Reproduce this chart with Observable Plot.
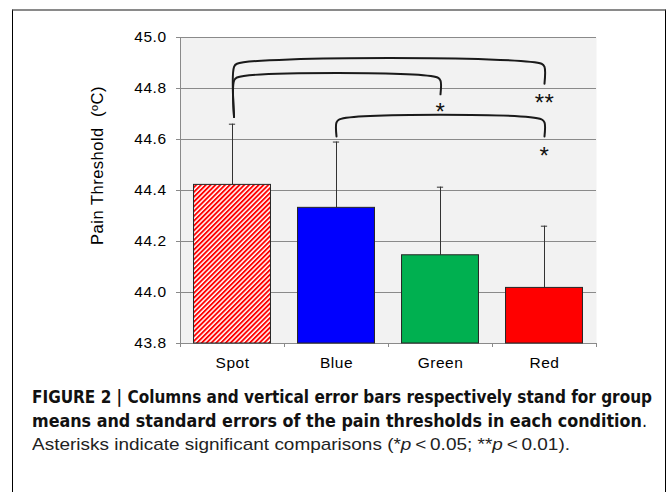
<!DOCTYPE html>
<html><head><meta charset="utf-8">
<script src="https://cdn.jsdelivr.net/npm/d3@7"></script>
<script src="https://cdn.jsdelivr.net/npm/@observablehq/plot@0.6"></script>
<style>
html,body{margin:0;padding:0;background:#fff;}
#wrap{position:relative;width:671px;height:492px;overflow:hidden;background:#fff;}
#chart{position:absolute;left:0;top:0;}
#chart svg text{letter-spacing:0.5px;font-family:"Liberation Sans",Arial,sans-serif;}
#box{position:absolute;left:12px;top:9px;width:654px;height:500px;border-top:2px solid #8a8a8a;border-left:1.5px solid #000;border-right:1.5px solid #000;box-sizing:border-box;pointer-events:none;}
#caption{position:absolute;left:32px;top:386px;font-family:"Liberation Sans Narrow","DejaVu Sans Condensed","Liberation Sans",sans-serif;font-size:17px;line-height:23.5px;color:#111;}
.line{white-space:nowrap;display:block;width:max-content;transform-origin:0 50%;}
.light{font-family:"Liberation Sans",Arial,sans-serif;color:#222;}
</style></head><body>
<div id="wrap">
<div id="chart"></div>
<div id="box"></div>
<div id="caption">
<span class="line" data-w="620"><b>FIGURE 2 | Columns and vertical error bars respectively stand for group</b></span>
<span class="line" data-w="615"><b>means and standard errors of the pain thresholds in each condition</b>.</span>
<span class="line light" data-w="538">Asterisks indicate significant comparisons (*<i>p</i>&thinsp;&lt;&thinsp;0.05; **<i>p</i>&thinsp;&lt;&thinsp;0.01).</span>
</div>
</div>
<script>
// ---- data ----
const categories = ["Spot", "Blue", "Green", "Red"];
const means = [44.422, 44.332, 44.146, 44.018];
const stdErrors = [0.238, 0.258, 0.267, 0.242];
const barFills = ["url(#spotHatch)", "#0000ff", "#00b050", "#ff0000"];
const yTicks = [43.8, 44.0, 44.2, 44.4, 44.6, 44.8, 45.0];
const yLabel = "Pain Threshold\u00a0 (ºC)";
const compFrom = ["Spot", "Spot", "Blue"];
const compTo = ["Red", "Green", "Red"];
const compTop = [44.897, 44.843, 44.679];
const compFromEnd = [44.688, 44.688, 44.612];
const compToEnd = [44.819, 44.777, 44.612];
const compMark = ["**", "*", "*"];
const compMarkY = [44.768, 44.733, 44.563];

// ---- build ----
const idx = c => categories.indexOf(c);
const bars = categories.map((c, i) => ({cat: c, i, mean: means[i], se: stdErrors[i], fill: barFills[i]}));
const rx = 0.028, ry = 0.012;
const bracketPts = [];
compFrom.forEach((f, k) => {
  const xa = idx(f) + 0.5 + (f === "Spot" ? 0.015 : 0), xb = idx(compTo[k]) + 0.5, t = compTop[k];
  [[xa, compFromEnd[k]], [xa, t - ry], [xa + rx, t], [xb - rx, t], [xb, t - ry], [xb, compToEnd[k]]]
    .forEach(([x, y]) => bracketPts.push({k, x, y}));
});
const marks = compMark.map((m, k) => ({m, x: idx(compTo[k]) + 0.5, y: compMarkY[k]}));

const chart = Plot.plot({
  width: 671, height: 380,
  marginLeft: 180, marginRight: 75, marginTop: 37, marginBottom: 37,
  style: {fontFamily: "'Liberation Sans', Arial, sans-serif", fontSize: "15px", background: "transparent", color: "#000"},
  x: {domain: [0, 4]},
  y: {domain: [43.8, 45.0]},
  color: {type: "identity"},
  marks: [
    Plot.frame({fill: "#f2f2f2", stroke: "none"}),
    Plot.gridY(yTicks, {stroke: "#8a8a8a", strokeOpacity: 1}),
    Plot.ruleX([0], {stroke: "#8a8a8a"}),
    Plot.axisY(yTicks, {tickSize: 4, tickPadding: 10, tickFormat: d => d.toFixed(1), stroke: "#8a8a8a", fill: "#000", fontSize: 15.5, label: null}),
    Plot.axisX([0, 1, 2, 3, 4], {tickSize: 4, tickFormat: () => "", stroke: "#8a8a8a", label: null}),
    Plot.axisX([0.5, 1.5, 2.5, 3.5], {tickSize: 0, tickPadding: 13, tickFormat: d => categories[Math.floor(d)], fill: "#000", fontSize: 15.5, label: null}),
    Plot.ruleX(bars, {x: d => d.i + 0.5, y1: "mean", y2: d => d.mean + d.se, stroke: "#333", strokeWidth: 1}),
    Plot.ruleY(bars, {y: d => d.mean + d.se, x1: d => d.i + 0.5 - 0.03, x2: d => d.i + 0.5 + 0.03, stroke: "#333", strokeWidth: 1}),
    Plot.rectY(bars, {x1: d => d.i + 0.13, x2: d => d.i + 0.87, y1: 43.8, y2: "mean", fill: "fill", stroke: "#262626", strokeWidth: 1}),
    Plot.line(bracketPts, {x: "x", y: "y", z: "k", curve: "catmull-rom", stroke: "#1a1a1a", strokeWidth: 2}),
    Plot.text(marks, {x: "x", y: "y", text: "m", fontSize: 24, dy: 7, fill: "#111"}),
    Plot.text([yLabel], {frameAnchor: "left", textAnchor: "middle", lineAnchor: "middle", text: d => d, rotate: -90, dx: -83, dy: -25, fontSize: 16.5, fill: "#000"})
  ]
});
d3.select(chart).insert("defs", ":first-child").html(
  '<pattern id="spotHatch" patternUnits="userSpaceOnUse" width="3.4" height="3.4" patternTransform="rotate(45)">' +
  '<rect width="3.4" height="3.4" fill="#fff"/><rect width="1.9" height="3.4" fill="#ff0000"/></pattern>');
document.getElementById("chart").appendChild(chart);

document.querySelectorAll(".line").forEach(el => {
  const w = el.getBoundingClientRect().width;
  const target = +el.dataset.w;
  el.style.transform = `scaleX(${target / w})`;
});
</script>
</body></html>
